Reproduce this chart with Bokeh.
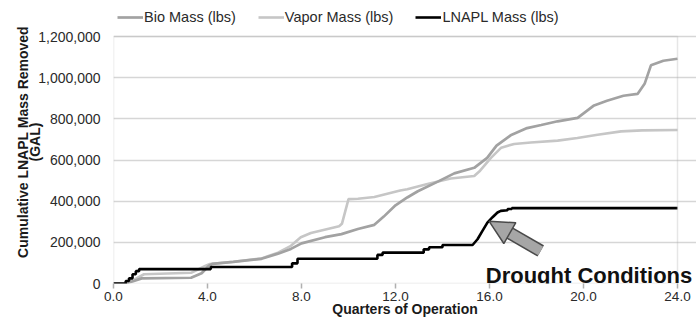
import math
from bokeh.plotting import figure
from bokeh.models import (Range1d, FixedTicker, NumeralTickFormatter, Legend,
                          LegendItem, Label, Arrow, NormalHead, LinearAxis,
                          BoxAnnotation)
from bokeh.embed import file_html
from bokeh.resources import INLINE

# ---------------- data ----------------
quarter_ticks = [0, 4, 8, 12, 16, 20, 24]
mass_ticks = [0, 200000, 400000, 600000, 800000, 1000000, 1200000]

bio_q = [0, 0.5, 0.8, 1.2, 3.3, 3.75, 4.05, 4.2, 5.1, 6.3, 7.0, 7.55, 8.0, 9.0,
         9.7, 10.4, 11.1, 11.5, 12.0, 12.5, 12.95, 13.8, 14.5, 15.35, 15.9,
         16.3, 16.9, 17.6, 18.2, 18.9, 19.75, 20.45, 21.0, 21.7, 22.3, 22.6,
         22.87, 23.4, 24.0]
bio_mass = [0, 0, 10000, 25000, 28000, 50000, 85000, 95000, 105000, 120000,
            145000, 168000, 195000, 225000, 240000, 265000, 285000, 325000,
            380000, 418000, 448000, 495000, 535000, 562000, 610000, 670000,
            720000, 755000, 770000, 788000, 805000, 865000, 888000, 912000,
            921000, 970000, 1060000, 1082000, 1092000]

vapor_q = [0, 0.5, 0.9, 1.3, 3.3, 3.9, 4.1, 5.1, 6.3, 7.0, 7.55, 7.97, 8.4,
           9.6, 9.72, 10.0, 10.4, 11.1, 12.2, 12.5, 13.36, 14.35, 15.35, 15.6,
           16.06, 16.5, 17.05, 17.76, 18.9, 19.74, 20.6, 21.6, 22.5, 24.0]
vapor_mass = [0, 0, 20000, 45000, 52000, 85000, 95000, 106000, 122000,
              150000, 183000, 225000, 245000, 278000, 290000, 410000, 412000,
              420000, 452000, 458000, 483000, 510000, 522000, 548000, 610000,
              660000, 678000, 685000, 694000, 707000, 723000, 739000, 744000,
              746000]

lnapl_q = [0, 0.52, 0.52, 0.66, 0.66, 0.81, 0.81, 0.95, 0.95, 1.09, 1.09,
           4.14, 4.14, 7.6, 7.6, 7.83, 7.83, 11.23, 11.23, 11.45, 11.45, 13.2,
           13.2, 13.43, 13.43, 14.0, 14.0, 15.28, 15.49, 15.7, 15.91, 16.13,
           16.34, 16.48, 16.77, 16.77, 16.95, 16.95, 24.0]
lnapl_mass = [0, 0, 12000, 12000, 25000, 25000, 45000, 45000, 60000, 60000,
              70000, 70000, 80000, 80000, 98000, 98000, 120000, 120000, 139000,
              139000, 150000, 150000, 166000, 166000, 176000, 176000, 187000,
              187000, 215000, 256000, 296000, 322000, 345000, 353000, 356000,
              362000, 362000, 366000, 366000]

series_labels = ["Bio Mass (lbs)", "Vapor Mass (lbs)", "LNAPL Mass (lbs)"]
x_title = "Quarters of Operation"
y_title_1 = "Cumulative LNAPL Mass Removed"
y_title_2 = "(GAL)"

# annotation anchor points (data units)
arrow_tip = (15.98, 303000)
arrow_tail = (18.18, 158000)
drought_text = "Drought Conditions"

# ---------------- layout ----------------
W, H = 696, 320
B_LEFT, B_BOTTOM = 113, 37
TOP_PAD, RIGHT_PAD = 36, 19          # space inside the frame above / right of the axes box
FRAME_W = W - B_LEFT
FRAME_H = H - B_BOTTOM
X0, X1 = 0, 24
Y0, Y1 = 0, 1200000
px_per_x = (FRAME_W - RIGHT_PAD) / (X1 - X0)
px_per_y = (FRAME_H - TOP_PAD) / (Y1 - Y0)

FONT = "Liberation Sans"

p = figure(width=W, height=H, output_backend="svg", toolbar_location=None,
           x_range=Range1d(X0, X1 + RIGHT_PAD / px_per_x),
           y_range=Range1d(Y0, Y1 + TOP_PAD / px_per_y))
p.min_border = 0
p.min_border_left = B_LEFT
p.min_border_right = 0
p.min_border_top = 0
p.min_border_bottom = B_BOTTOM
p.background_fill_color = "white"
p.border_fill_color = "white"
p.outline_line_color = None

p.xgrid.visible = False
p.ygrid.ticker = FixedTicker(ticks=mass_ticks)
p.ygrid.grid_line_color = "#d6d6d6"
p.ygrid.grid_line_width = 1.6

# box around the axes area
p.add_layout(BoxAnnotation(left=X0, right=X1, bottom=Y0, top=Y1, fill_alpha=0,
                           line_color="#ababab", line_width=1.5))

p.xaxis.ticker = FixedTicker(ticks=quarter_ticks)
p.xaxis.formatter = NumeralTickFormatter(format="0.0")
p.xaxis.bounds = (X0, X1)
p.yaxis.ticker = FixedTicker(ticks=mass_ticks)
p.yaxis.formatter = NumeralTickFormatter(format="0,0")
p.yaxis.bounds = (Y0, Y1)
for ax in (p.xaxis[0], p.yaxis[0]):
    ax.major_label_text_font = FONT
    ax.major_label_text_color = "#2a2a2a"
    ax.minor_tick_line_color = None
    ax.axis_line_color = None
    ax.major_tick_line_color = "#b0b0b0"
    ax.major_tick_line_width = 1.5
    ax.axis_label_text_font = FONT
    ax.axis_label_text_font_style = "bold"
    ax.axis_label_text_color = "#1a1a1a"
p.xaxis.major_label_text_font_size = "13.5px"
p.yaxis.major_label_text_font_size = "14px"
p.xaxis.axis_label = x_title
p.xaxis.axis_label_text_font_size = "14px"
p.xaxis.axis_label_standoff = -3
p.yaxis.axis_label = y_title_2
p.yaxis.axis_label_text_font_size = "14px"
p.yaxis.axis_label_standoff = -8
p.xaxis.major_tick_out = 5
p.xaxis.major_tick_in = 0
p.xaxis.major_label_standoff = 3
p.yaxis.major_tick_out = 0
p.yaxis.major_tick_in = 0
p.yaxis.major_label_standoff = 13

# outer title line of the y axis (a bare axis further left)
y_outer = LinearAxis(ticker=FixedTicker(ticks=[]), axis_label=y_title_1,
                     bounds=(Y0, Y1),
                     axis_line_color=None, major_tick_line_color=None,
                     minor_tick_line_color=None, major_tick_out=0, major_tick_in=0,
                     major_label_standoff=0, axis_label_standoff=-6,
                     axis_label_text_font=FONT, axis_label_text_font_size="14px",
                     axis_label_text_font_style="bold",
                     axis_label_text_color="#1a1a1a")
p.add_layout(y_outer, "left")

# ---------------- series ----------------
r_vapor = p.line(vapor_q, vapor_mass, line_color="#c6c6c6", line_width=2.6)
r_bio = p.line(bio_q, bio_mass, line_color="#a2a2a2", line_width=2.7)
r_lnapl = p.line(lnapl_q, lnapl_mass, line_color="#000000", line_width=2.6)

legend = Legend(items=[LegendItem(label=series_labels[0], renderers=[r_bio]),
                       LegendItem(label=series_labels[1], renderers=[r_vapor]),
                       LegendItem(label=series_labels[2], renderers=[r_lnapl])],
                orientation="horizontal", location=(4, FRAME_H - 24.7),
                padding=0, margin=0, spacing=22, glyph_width=26,
                glyph_height=16, label_standoff=1, label_height=16,
                label_text_font=FONT, label_text_font_size="14.5px",
                label_text_color="#2a2a2a", border_line_alpha=0,
                background_fill_alpha=0)
p.add_layout(legend)

# ---------------- annotation arrow ----------------
head = 24
dxp = (arrow_tip[0] - arrow_tail[0]) * px_per_x
dyp = (arrow_tip[1] - arrow_tail[1]) * px_per_y
L = math.hypot(dxp, dyp)
f = (L - head + 1) / L
base = (arrow_tail[0] + f * (arrow_tip[0] - arrow_tail[0]),
        arrow_tail[1] + f * (arrow_tip[1] - arrow_tail[1]))

p.add_layout(Arrow(end=None, x_start=arrow_tail[0], y_start=arrow_tail[1],
                   x_end=base[0], y_end=base[1], line_color="#4a4a4a", line_width=13))
p.add_layout(Arrow(end=None, x_start=arrow_tail[0], y_start=arrow_tail[1],
                   x_end=base[0], y_end=base[1], line_color="#a6a6a6", line_width=10))
p.add_layout(Arrow(end=NormalHead(size=head, fill_color="#a6a6a6", line_color="#4a4a4a",
                                  line_width=1.5),
                   x_start=base[0], y_start=base[1], x_end=arrow_tip[0], y_end=arrow_tip[1],
                   line_alpha=0))

p.add_layout(Label(x=15.84, y=8.5 / px_per_y, text=drought_text,
                   text_align="left", text_baseline="alphabetic",
                   text_font=FONT, text_font_size="22px", text_font_style="bold",
                   text_color="#111111"))

open("out.html", "w").write(file_html(p, INLINE))
